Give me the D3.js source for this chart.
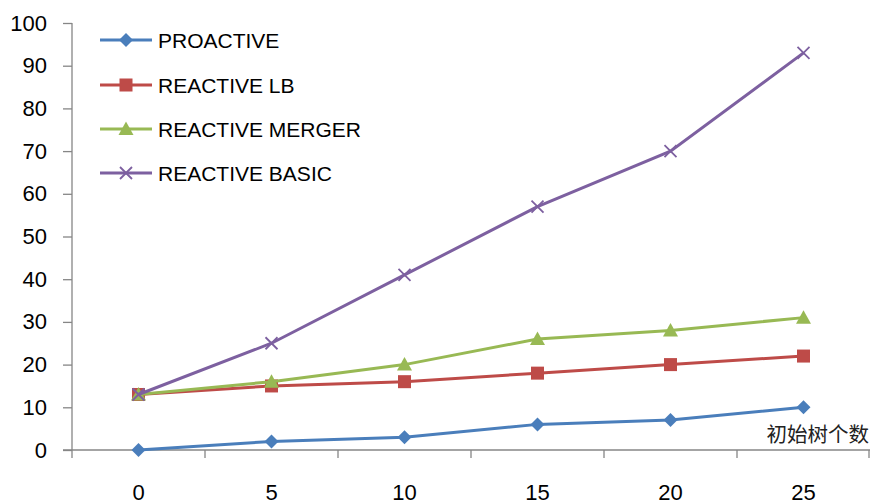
<!DOCTYPE html>
<html><head><meta charset="utf-8">
<script src="https://cdn.jsdelivr.net/npm/d3@7"></script>
<style>body{margin:0;background:#fff;} svg{display:block;}</style>
</head><body>
<svg id="c" width="870" height="504"></svg>
<script>
const categories = [0, 5, 10, 15, 20, 25];
const proactive = [0, 2, 3, 6, 7, 10];
const reactiveLB = [13, 15, 16, 18, 20, 22];
const reactiveMerger = [13, 16, 20, 26, 28, 31];
const reactiveBasic = [13, 25, 41, 57, 70, 93];
const yTicks = [0, 10, 20, 30, 40, 50, 60, 70, 80, 90, 100];
const seriesNames = ["PROACTIVE", "REACTIVE LB", "REACTIVE MERGER", "REACTIVE BASIC"];
const xTitle = "初始树个数";

(function(){
const series = [
  {name: seriesNames[0], values: proactive, color: "#4a7ebb", marker: "diamond"},
  {name: seriesNames[1], values: reactiveLB, color: "#be4b48", marker: "square"},
  {name: seriesNames[2], values: reactiveMerger, color: "#98b954", marker: "triangle"},
  {name: seriesNames[3], values: reactiveBasic, color: "#7d60a0", marker: "x"}
];

const svg = d3.select("#c");
const font = "'Liberation Sans', Arial, sans-serif";
const pL = 72, pR = 870, pT = 23, pB = 450;
const x = d3.scaleBand().domain(categories).range([pL, pR]);
const y = d3.scaleLinear().domain([0, 100]).range([pB, pT]);
const axisColor = "#868686";

// y axis
const yAxis = svg.append("g").attr("transform", `translate(${pL},0)`)
  .call(d3.axisLeft(y).tickValues(yTicks).tickSize(9).tickPadding(16));
yAxis.select(".domain").attr("stroke", axisColor).attr("stroke-width", 1.3).attr("d", `M0,${pT}V${pB}`);
yAxis.selectAll(".tick line").attr("stroke", axisColor).attr("stroke-width", 1.3);
yAxis.selectAll(".tick text").attr("fill", "#000").style("font-family", font).style("font-size", "22px");

// x axis line with boundary ticks
const xg = svg.append("g");
xg.append("line").attr("x1", pL - 9).attr("x2", pR).attr("y1", pB).attr("y2", pB)
  .attr("stroke", axisColor).attr("stroke-width", 1.3);
const bounds = categories.map(c => x(c)).concat([x(categories[categories.length-1]) + x.bandwidth()]);
xg.selectAll("line.b").data(bounds).enter().append("line")
  .attr("x1", d => Math.min(d, pR - 1)).attr("x2", d => Math.min(d, pR - 1))
  .attr("y1", pB).attr("y2", pB + 8).attr("stroke", axisColor).attr("stroke-width", 1.3);
xg.selectAll("text").data(categories).enter().append("text")
  .attr("x", d => x(d) + x.bandwidth() / 2).attr("y", 500)
  .attr("text-anchor", "middle").style("font-family", font).style("font-size", "22px").text(d => d);

// x title
svg.append("text").attr("x", 869).attr("y", 442).attr("text-anchor", "end")
  .style("font-family", "'Noto Sans CJK SC', sans-serif").style("font-size", "20.5px").attr("fill", "#222").text(xTitle);

const cx = d => x(d) + x.bandwidth() / 2;

function drawMarker(g, type, px, py, color) {
  if (type === "diamond") {
    g.append("path").attr("d", `M${px},${py-7}L${px+7},${py}L${px},${py+7}L${px-7},${py}Z`).attr("fill", color);
  } else if (type === "square") {
    g.append("rect").attr("x", px-6.5).attr("y", py-6.5).attr("width", 13).attr("height", 13).attr("fill", color);
  } else if (type === "triangle") {
    g.append("path").attr("d", `M${px},${py-7.5}L${px+7.5},${py+6}L${px-7.5},${py+6}Z`).attr("fill", color);
  } else {
    g.append("path").attr("d", `M${px-6},${py-6}L${px+6},${py+6}M${px-6},${py+6}L${px+6},${py-6}`)
      .attr("stroke", color).attr("stroke-width", 1.8);
  }
}

const line = d3.line().x((d, i) => cx(categories[i])).y(d => y(d));
series.forEach(s => {
  const g = svg.append("g");
  g.append("path").attr("d", line(s.values)).attr("fill", "none").attr("stroke", s.color).attr("stroke-width", 3);
  s.values.forEach((v, i) => drawMarker(g, s.marker, cx(categories[i]), y(v), s.color));
});

// legend
const legY = [40, 85, 129, 173];
series.forEach((s, i) => {
  const g = svg.append("g");
  g.append("line").attr("x1", 100).attr("x2", 152).attr("y1", legY[i]).attr("y2", legY[i])
    .attr("stroke", s.color).attr("stroke-width", 3);
  drawMarker(g, s.marker, 126, legY[i], s.color);
  g.append("text").attr("x", 158).attr("y", legY[i] + 8).style("font-family", font).style("font-size", "21px").text(s.name);
});
})();
</script>
</body></html>
